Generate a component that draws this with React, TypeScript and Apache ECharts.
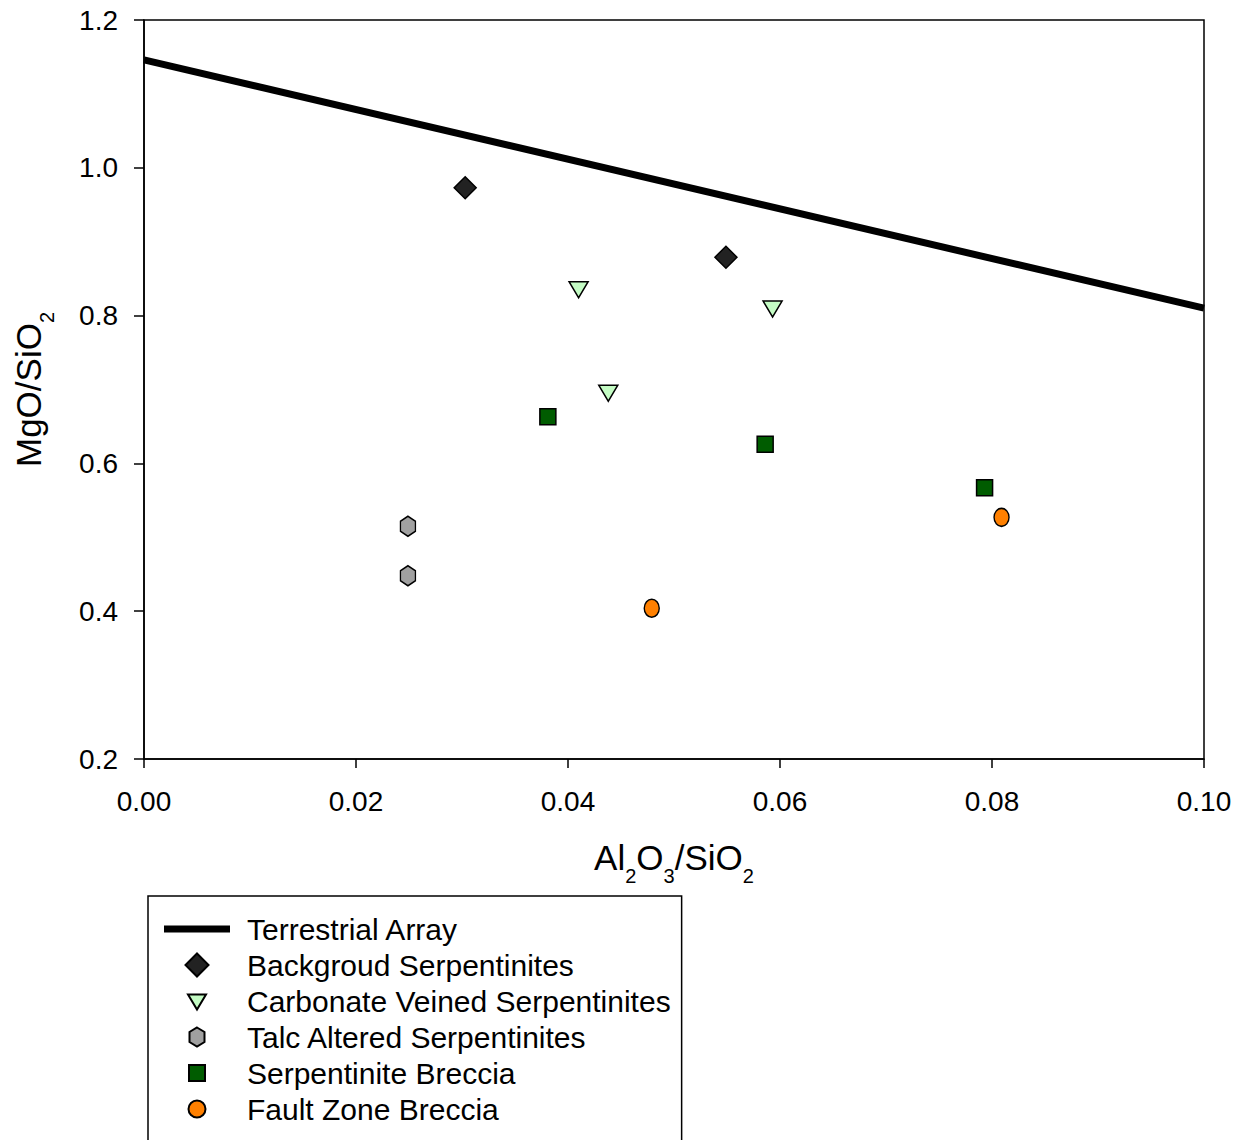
import React, { useEffect, useRef } from "react";
import * as echarts from "echarts";

const xTicks = [0, 0.02, 0.04, 0.06, 0.08, 0.1];
const yTicks = [0.2, 0.4, 0.6, 0.8, 1.0, 1.2];

const arrayX = [0, 0.1];
const arrayY = [1.146, 0.81];

const backgroundX = [0.0303, 0.0549];
const backgroundY = [0.973, 0.879];

const carbonateX = [0.0410, 0.0593, 0.0438];
const carbonateY = [0.835, 0.809, 0.695];

const talcX = [0.0249, 0.0249];
const talcY = [0.515, 0.448];

const serpBrecciaX = [0.0381, 0.0586, 0.0793];
const serpBrecciaY = [0.663, 0.626, 0.567];

const faultX = [0.0479, 0.0809];
const faultY = [0.404, 0.527];

const seriesNames = [
  "Terrestrial Array",
  "Backgroud Serpentinites",
  "Carbonate Veined Serpentinites",
  "Talc Altered Serpentinites",
  "Serpentinite Breccia",
  "Fault Zone Breccia",
];

const zip = (xs: number[], ys: number[]) => xs.map((x, i) => [x, ys[i]]);

const FONT = "'Liberation Sans', Arial, sans-serif";
const HEX = "path://M0,-1L0.866,-0.5L0.866,0.5L0,1L-0.866,0.5L-0.866,-0.5Z";
const ELLIPSE = "path://M0,-1A1,1,0,1,1,0,1A1,1,0,1,1,0,-1Z";

// legend icons (bounding box padded to the 66x24 legend item box)
const PAD = "M0,-12M0,12";
const ICON_LINE = "path://" + PAD + "M-33,-3.5L33,-3.5L33,3.5L-33,3.5Z";
const ICON_DIAMOND = "path://" + PAD + "M0,-11.5L11.5,0L0,11.5L-11.5,0Z";
const ICON_TRI = "path://" + PAD + "M-9,-6.5L9,-6.5L0,8.5Z";
const ICON_HEX = "path://" + PAD + "M0,-9.5L7.5,-5L7.5,5L0,9.5L-7.5,5L-7.5,-5Z";
const ICON_SQ = "path://" + PAD + "M-8,-8L8,-8L8,8L-8,8Z";
const ICON_CIRC = "path://" + PAD + "M0,-8.5A8.5,8.5,0,1,1,0,8.5A8.5,8.5,0,1,1,0,-8.5Z";

export default function App() {
  const ref = useRef<HTMLDivElement>(null);
  useEffect(() => {
    if (!ref.current) return;
    const chart = echarts.init(ref.current, null, { renderer: "svg" });
    const border = { borderColor: "#000", borderWidth: 1.5, opacity: 1 };
    const subRich = {
      s: { fontSize: 20, lineHeight: 20, padding: [38, 0, 0, 0], fontFamily: FONT, color: "#000" },
    };
    chart.setOption({
      animation: false,
      backgroundColor: "#fff",
      textStyle: { fontFamily: FONT },
      grid: {
        left: 144,
        top: 20,
        right: 42,
        bottom: 441,
        outerBoundsMode: "none",
        containLabel: false,
        show: true,
        borderColor: "#000",
        borderWidth: 1.5,
        backgroundColor: "transparent",
      },
      xAxis: {
        type: "value",
        min: xTicks[0],
        max: xTicks[xTicks.length - 1],
        interval: 0.02,
        name: "Al{s|2}O{s|3}/SiO{s|2}",
        nameLocation: "middle",
        nameGap: 69,
        nameTextStyle: { fontSize: 35, lineHeight: 58, color: "#000", fontFamily: FONT, rich: subRich },
        axisLine: { show: true, onZero: false, lineStyle: { color: "#000", width: 1.5 } },
        axisTick: { show: true, inside: false, length: 9, lineStyle: { color: "#000", width: 1.5 } },
        axisLabel: {
          fontSize: 28,
          color: "#000",
          margin: 28,
          fontFamily: FONT,
          formatter: (v: number) => v.toFixed(2),
        },
        splitLine: { show: false },
      },
      yAxis: {
        type: "value",
        min: yTicks[0],
        max: yTicks[yTicks.length - 1],
        interval: 0.2,
        name: "MgO/SiO{s|2}",
        nameLocation: "middle",
        nameRotate: 90,
        nameGap: 87,
        nameTextStyle: { fontSize: 35, lineHeight: 58, color: "#000", fontFamily: FONT, rich: subRich },
        axisLine: { show: true, onZero: false, lineStyle: { color: "#000", width: 1.5 } },
        axisTick: { show: true, inside: false, length: 10, lineStyle: { color: "#000", width: 1.5 } },
        axisLabel: {
          fontSize: 28,
          color: "#000",
          margin: 26,
          fontFamily: FONT,
          formatter: (v: number) => v.toFixed(1),
        },
        splitLine: { show: false },
      },
      legend: {
        orient: "vertical",
        left: 148,
        top: 896,
        padding: [18, 11, 22, 16],
        itemWidth: 66,
        itemHeight: 24,
        itemGap: 6,
        borderColor: "#000",
        borderWidth: 1.5,
        backgroundColor: "#fff",
        textStyle: { fontSize: 30, color: "#000", fontFamily: FONT, padding: [0, 0, 0, 12] },
        data: [
          { name: seriesNames[0], icon: ICON_LINE, itemStyle: { color: "#000", borderWidth: 0 } },
          { name: seriesNames[1], icon: ICON_DIAMOND },
          { name: seriesNames[2], icon: ICON_TRI },
          { name: seriesNames[3], icon: ICON_HEX },
          { name: seriesNames[4], icon: ICON_SQ },
          { name: seriesNames[5], icon: ICON_CIRC },
        ],
      },
      series: [
        {
          name: seriesNames[0],
          type: "line",
          data: zip(arrayX, arrayY),
          showSymbol: false,
          symbol: "none",
          lineStyle: { color: "#000", width: 7 },
          itemStyle: { color: "#000" },
          z: 1,
        },
        {
          name: seriesNames[1],
          type: "scatter",
          data: zip(backgroundX, backgroundY),
          symbol: "diamond",
          symbolSize: [22, 22],
          itemStyle: { color: "#222222", ...border },
          z: 3,
        },
        {
          name: seriesNames[2],
          type: "scatter",
          data: zip(carbonateX, carbonateY),
          symbol: "triangle",
          symbolRotate: 180,
          symbolSize: [19, 16],
          itemStyle: { color: "#c4fcc4", ...border },
          z: 3,
        },
        {
          name: seriesNames[3],
          type: "scatter",
          data: zip(talcX, talcY),
          symbol: HEX,
          symbolSize: [15, 20],
          itemStyle: { color: "#a0a0a0", ...border },
          z: 3,
        },
        {
          name: seriesNames[4],
          type: "scatter",
          data: zip(serpBrecciaX, serpBrecciaY),
          symbol: "rect",
          symbolSize: [16, 16],
          itemStyle: { color: "#005c00", ...border },
          z: 3,
        },
        {
          name: seriesNames[5],
          type: "scatter",
          data: zip(faultX, faultY),
          symbol: ELLIPSE,
          symbolSize: [15, 18],
          itemStyle: { color: "#ff8000", ...border },
          z: 3,
        },
      ],
    });
    return () => chart.dispose();
  }, []);
  return (
    <div
      ref={ref}
      style={{ position: "fixed", left: 0, top: 0, width: 1246, height: 1200, background: "#fff" }}
    />
  );
}
